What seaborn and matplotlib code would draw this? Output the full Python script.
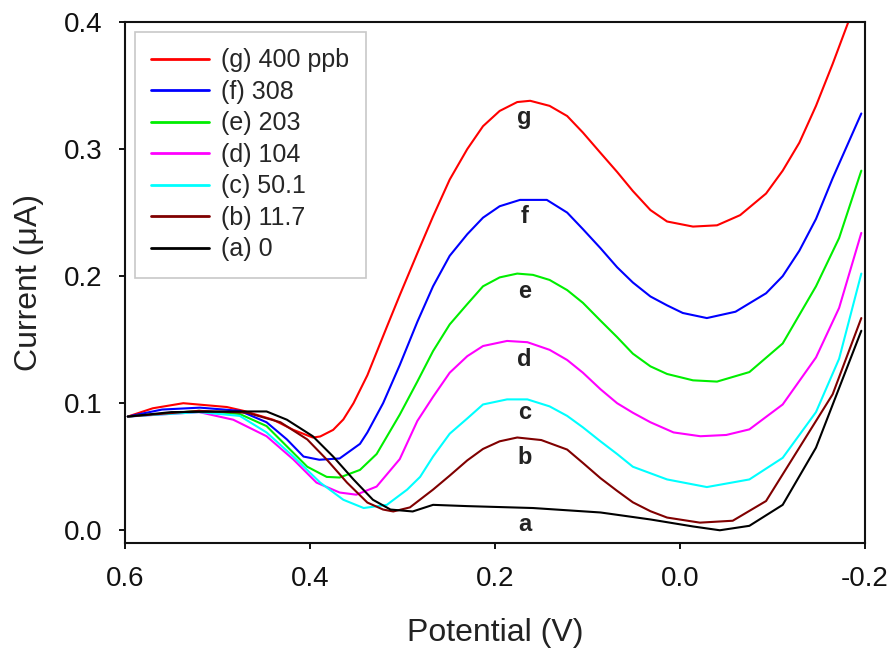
import numpy as np
import pandas as pd
import matplotlib
matplotlib.use('Agg')
import matplotlib.pyplot as plt
import seaborn as sns

# curves: potential (V) -> current (uA)
x_g = [0.597, 0.57, 0.537, 0.49, 0.472, 0.44, 0.418, 0.397, 0.389, 0.375, 0.364, 0.353, 0.338, 0.317, 0.303, 0.284, 0.267, 0.249, 0.23, 0.213, 0.195, 0.176, 0.162, 0.141, 0.122, 0.105, 0.086, 0.068, 0.051, 0.032, 0.014, -0.014, -0.04, -0.065, -0.093, -0.111, -0.129, -0.147, -0.165, -0.183]
y_g = [0.0895, 0.096, 0.100, 0.097, 0.094, 0.087, 0.079, 0.073, 0.0738, 0.079, 0.0872, 0.100, 0.122, 0.160, 0.185, 0.218, 0.247, 0.276, 0.300, 0.318, 0.330, 0.337, 0.338, 0.334, 0.326, 0.313, 0.297, 0.282, 0.267, 0.252, 0.243, 0.239, 0.240, 0.248, 0.265, 0.283, 0.305, 0.334, 0.367, 0.402]

x_f = [0.597, 0.56, 0.519, 0.476, 0.447, 0.425, 0.407, 0.39, 0.368, 0.346, 0.338, 0.321, 0.303, 0.284, 0.267, 0.249, 0.23, 0.213, 0.195, 0.173, 0.144, 0.122, 0.105, 0.086, 0.068, 0.051, 0.032, 0.014, -0.003, -0.029, -0.06, -0.093, -0.111, -0.129, -0.147, -0.165, -0.196]
y_f = [0.0895, 0.095, 0.0965, 0.094, 0.085, 0.0715, 0.058, 0.0555, 0.0565, 0.068, 0.077, 0.100, 0.130, 0.164, 0.192, 0.216, 0.233, 0.246, 0.255, 0.260, 0.260, 0.250, 0.237, 0.222, 0.207, 0.195, 0.184, 0.177, 0.171, 0.167, 0.172, 0.1865, 0.200, 0.220, 0.245, 0.277, 0.328]

x_e = [0.597, 0.52, 0.476, 0.447, 0.425, 0.403, 0.382, 0.368, 0.346, 0.328, 0.303, 0.284, 0.267, 0.249, 0.23, 0.213, 0.195, 0.176, 0.159, 0.141, 0.122, 0.105, 0.086, 0.068, 0.051, 0.032, 0.014, -0.014, -0.04, -0.075, -0.111, -0.147, -0.172, -0.196]
y_e = [0.0895, 0.094, 0.0915, 0.082, 0.066, 0.050, 0.042, 0.0415, 0.0475, 0.060, 0.091, 0.117, 0.141, 0.162, 0.178, 0.192, 0.199, 0.202, 0.201, 0.197, 0.189, 0.179, 0.165, 0.152, 0.139, 0.129, 0.123, 0.118, 0.117, 0.1245, 0.147, 0.192, 0.230, 0.283]

x_d = [0.597, 0.52, 0.483, 0.447, 0.418, 0.393, 0.368, 0.35, 0.328, 0.303, 0.284, 0.267, 0.249, 0.23, 0.213, 0.187, 0.165, 0.141, 0.122, 0.105, 0.086, 0.068, 0.051, 0.032, 0.007, -0.022, -0.05, -0.075, -0.111, -0.147, -0.172, -0.196]
y_d = [0.0895, 0.093, 0.087, 0.074, 0.0557, 0.0375, 0.0297, 0.028, 0.0344, 0.056, 0.086, 0.105, 0.124, 0.137, 0.145, 0.149, 0.148, 0.142, 0.134, 0.124, 0.111, 0.100, 0.0925, 0.085, 0.077, 0.074, 0.075, 0.0794, 0.099, 0.136, 0.175, 0.234]

x_c = [0.597, 0.52, 0.476, 0.447, 0.418, 0.389, 0.364, 0.342, 0.317, 0.295, 0.281, 0.267, 0.249, 0.23, 0.213, 0.187, 0.165, 0.141, 0.122, 0.105, 0.086, 0.068, 0.051, 0.014, -0.029, -0.075, -0.111, -0.147, -0.172, -0.196]
y_c = [0.0895, 0.093, 0.090, 0.077, 0.058, 0.0375, 0.024, 0.0175, 0.020, 0.032, 0.042, 0.058, 0.076, 0.088, 0.099, 0.103, 0.103, 0.0975, 0.090, 0.081, 0.070, 0.060, 0.050, 0.040, 0.034, 0.040, 0.057, 0.093, 0.135, 0.202]

x_b = [0.597, 0.52, 0.468, 0.432, 0.403, 0.382, 0.36, 0.338, 0.321, 0.31, 0.292, 0.267, 0.249, 0.23, 0.213, 0.195, 0.176, 0.15, 0.122, 0.105, 0.086, 0.068, 0.051, 0.032, 0.014, -0.0215, -0.057, -0.093, -0.129, -0.165, -0.196]
y_b = [0.0895, 0.094, 0.0925, 0.085, 0.0715, 0.0557, 0.0375, 0.0218, 0.0163, 0.0148, 0.018, 0.032, 0.043, 0.055, 0.064, 0.070, 0.073, 0.071, 0.0635, 0.053, 0.041, 0.031, 0.022, 0.015, 0.010, 0.006, 0.0075, 0.023, 0.065, 0.107, 0.167]

x_a = [0.597, 0.55, 0.476, 0.447, 0.425, 0.397, 0.375, 0.353, 0.332, 0.313, 0.289, 0.267, 0.23, 0.159, 0.086, 0.032, -0.014, -0.043, -0.075, -0.111, -0.147, -0.196]
y_a = [0.0895, 0.093, 0.0935, 0.0935, 0.087, 0.074, 0.058, 0.040, 0.024, 0.0163, 0.0148, 0.020, 0.019, 0.0175, 0.014, 0.0085, 0.003, 0.000, 0.0035, 0.020, 0.065, 0.157]

series = ['(g) 400 ppb', '(f) 308', '(e) 203', '(d) 104', '(c) 50.1', '(b) 11.7', '(a) 0']
letters = ['g', 'f', 'e', 'd', 'c', 'b', 'a']
letter_y = [0.325, 0.247, 0.188, 0.134, 0.0925, 0.057, 0.0045]
letter_x = 0.168
colors = ['#ff0000', '#0000ff', '#00ee00', '#ff00ff', '#00ffff', '#800000', '#000000']

xs = [x_g, x_f, x_e, x_d, x_c, x_b, x_a]
ys = [y_g, y_f, y_e, y_d, y_c, y_b, y_a]

frames = []
for name, xv, yv in zip(series, xs, ys):
    frames.append(pd.DataFrame({'Potential': xv, 'Current': yv, 'curve': name}))
df = pd.concat(frames, ignore_index=True)

sns.set_style('ticks')
plt.rcParams['font.family'] = ['Liberation Sans', 'DejaVu Sans']
plt.rcParams['axes.unicode_minus'] = False

fig = plt.figure(figsize=(8.95, 6.53), dpi=100)
ax = fig.add_axes([0.1397, 0.1685, 0.8268, 0.7978])

sns.lineplot(data=df, x='Potential', y='Current', hue='curve', hue_order=series,
             palette=colors, sort=False, estimator=None, units='curve',
             linewidth=1.5, ax=ax)

for lt, ly in zip(letters, letter_y):
    ax.text(letter_x, ly, lt, ha='center', va='center', fontsize=17,
            fontweight='bold', color='#222222')

ax.set_xlim(0.6, -0.2)
ax.set_ylim(-0.01, 0.4)
ax.set_xticks([0.6, 0.4, 0.2, 0.0, -0.2])
ax.set_yticks([0.0, 0.1, 0.2, 0.3, 0.4])
ax.set_xticklabels(['0.6', '0.4', '0.2', '0.0', '-0.2'])
ax.set_yticklabels(['0.0', '0.1', '0.2', '0.3', '0.4'])
ax.tick_params(direction='out', length=4.5, width=1.4, pad=12, labelsize=20,
               colors='#111111', top=False, right=False)

for s in ax.spines.values():
    s.set_linewidth(1.5)
    s.set_color('#111111')
    s.set_visible(True)

ax.set_xlabel('Potential (V)', fontsize=23, labelpad=19, color='#222222')
ax.set_ylabel('Current (\u03bcA)', fontsize=23, labelpad=14, color='#222222')

leg = ax.legend(loc='upper left', fontsize=18, frameon=True, fancybox=False,
                framealpha=1, edgecolor='#c8c8c8', borderaxespad=0.4,
                borderpad=0.65, labelspacing=0.3, handlelength=2.3,
                handletextpad=0.5)
leg.get_frame().set_linewidth(1.2)
for line in leg.get_lines():
    line.set_linewidth(2)

fig.savefig('out.png', dpi=100)
